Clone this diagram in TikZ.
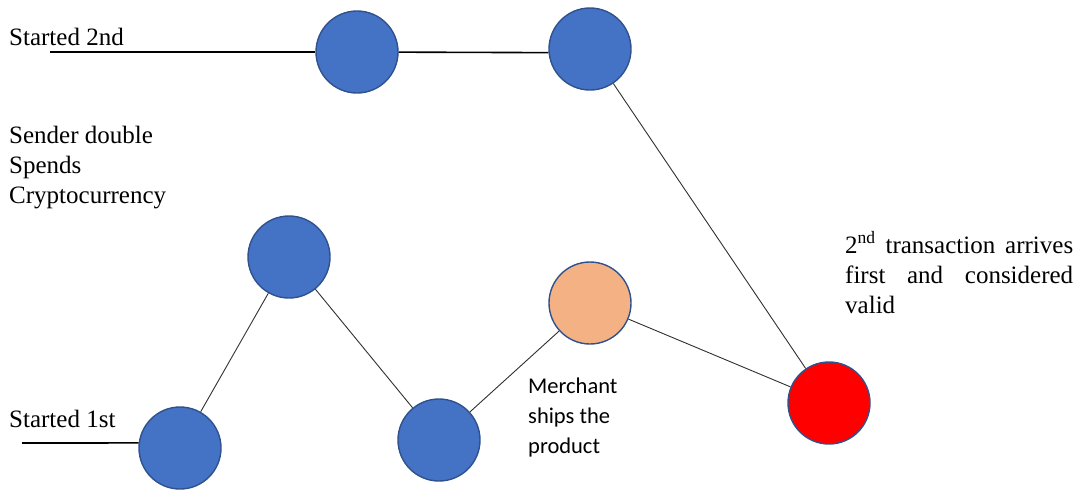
\documentclass[tikz,border=0pt]{standalone}
\usepackage{fontspec}
\setmainfont{Liberation Serif}
\newfontfamily\calibrilike{Carlito}
\definecolor{nodeblue}{HTML}{4472C4}
\definecolor{nodeedge}{HTML}{2F528F}
\definecolor{shipped}{HTML}{F4B183}
\definecolor{linkgray}{HTML}{303030}
\tikzset{
  block/.style={circle, minimum size=82pt, inner sep=0pt, draw=nodeedge, line width=1.4pt, fill=nodeblue},
  shipblock/.style={block, fill=shipped},
  validblock/.style={block, fill=red},
  chain/.style={draw=black, line width=1.6pt},
  link/.style={draw=linkgray, line width=0.9pt},
  serifnote/.style={font=\fontsize{25}{30}\selectfont, align=left, inner sep=0pt, anchor=base west},
  sansnote/.style={font=\calibrilike\fontsize{22.5}{30}\selectfont, align=left, inner sep=0pt, anchor=base west}
}
\begin{document}
\begin{tikzpicture}[x=1pt, y=-1pt]
\useasboundingbox (0,0) rectangle (1076,491);

% chain that started second
\coordinate (s2) at (50,52);
\node[block] (a2) at (357,52) {};
\node[block] (b2) at (590,49) {};

% chain that started first
\coordinate (s1) at (22,443);
\node[block] (d) at (180,448) {};
\node[block] (c) at (289,257) {};
\node[block] (e) at (439,440) {};
\node[shipblock] (f) at (590,303) {};
\node[validblock] (g) at (829,403) {};

\draw[chain] (s2) -- (a2);
\draw[chain] (a2) -- (b2.185);
\draw[chain] (s1) -- (d.173);
\draw[link] (d) -- (c);
\draw[link] (c) -- (e);
\draw[link] (e) -- (f);
\draw[link] (f) -- (g);
\draw[link] (b2) -- (g);

% labels (multi-line nodes are placed by the baseline of their last line)
\node[serifnote] (lab2) at (9,45) {Started 2nd};
\node[serifnote] (lab1) at (9,427) {Started 1st};
\node[serifnote] (sender) at (9,203) {Sender double\\Spends\\Cryptocurrency};
\node[serifnote] (arrive) at (845,313) {\makebox[228pt][s]{2\textsuperscript{nd} transaction arrives}\\\makebox[228pt][s]{first and considered}\\valid};
\node[sansnote] (ship) at (528,453) {Merchant\\ships the\\product};
\end{tikzpicture}
\end{document}
